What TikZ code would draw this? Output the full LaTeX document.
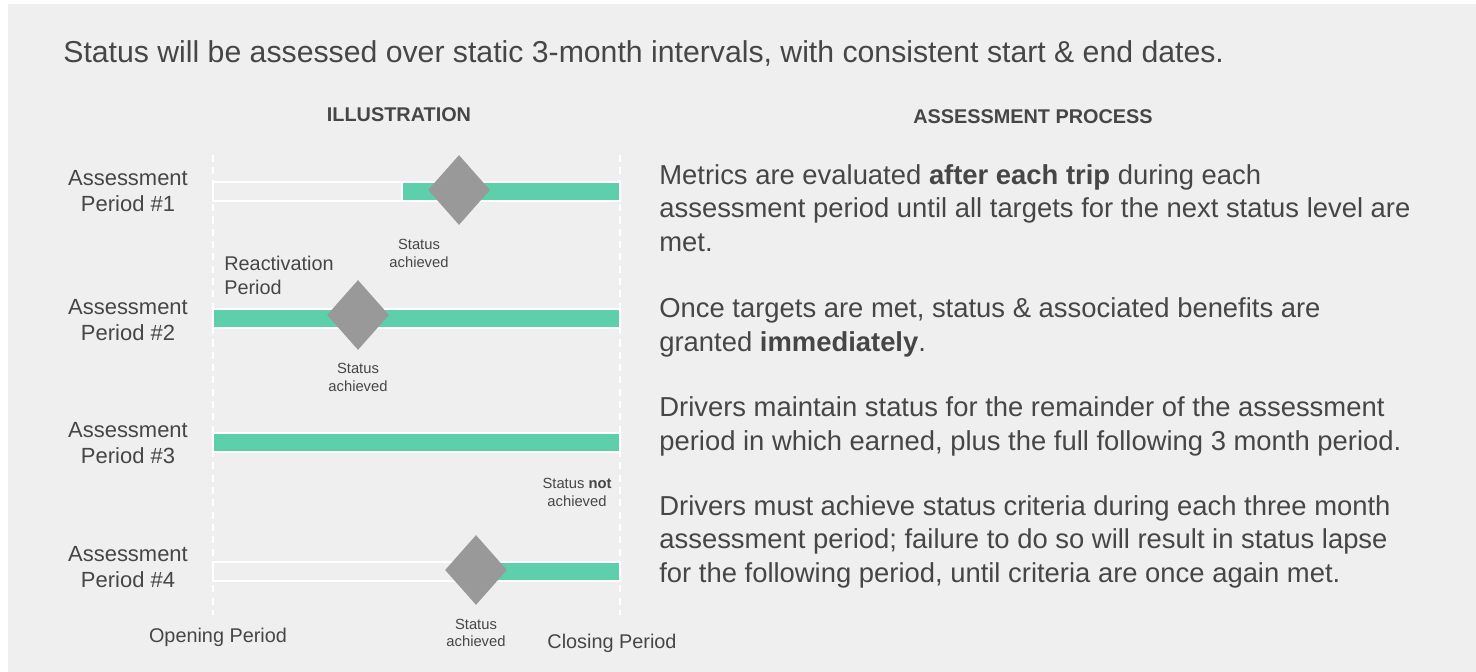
\documentclass[tikz,border=0pt]{standalone}
\usepackage{fontspec}
\setmainfont{Liberation Sans}
\usepackage{xcolor}
\usetikzlibrary{shapes.geometric, positioning}
\definecolor{panelGrey}{HTML}{EFEFEF}
\definecolor{textGrey}{HTML}{464646}
\definecolor{barGreen}{HTML}{5DCFAB}
\definecolor{markGrey}{HTML}{999999}

\begin{document}
\begin{tikzpicture}[
    x=0.02cm, y=-0.02cm,
    every node/.style={text=textGrey, inner sep=0pt},
    title/.style={font=\fontsize{17.2}{20}\selectfont, anchor=base west},
    head/.style={font=\fontsize{11.3}{13}\selectfont\bfseries},
    period/.style={align=center, font=\fontsize{12.5}{15.3}\selectfont},
    edge/.style={font=\fontsize{11.3}{13.6}\selectfont},
    note/.style={align=center, font=\fontsize{8.4}{10.2}\selectfont},
    body/.style={align=left, anchor=base west, font=\fontsize{15.6}{19}\selectfont},
    guide/.style={draw=white, line width=1.2pt, dash pattern=on 4pt off 3pt},
    track/.style={draw=white, line width=1.1pt},
    fillbar/.style={track, fill=barGreen},
    marker/.style={diamond, fill=markGrey, minimum width=1.24cm, minimum height=1.4cm, inner sep=0pt}
  ]
  % Background
  \useasboundingbox (0,0) rectangle (1476,672);
  \fill[white] (0,0) rectangle (1476,672);
  \fill[panelGrey] (8,4) rectangle (1476,672);

  % Headings
  \node[title] (intro) at (63,63) {Status will be assessed over static 3-month intervals, with consistent start \& end dates.};
  \node[head] (illus) at (399,115) {ILLUSTRATION};
  \node[head] (proc) at (1033,117) {ASSESSMENT PROCESS};

  % Guides
  \coordinate (openTop) at (213,155);
  \coordinate (openBot) at (213,615);
  \coordinate (closeTop) at (620,155);
  \coordinate (closeBot) at (620,615);
  \draw[guide] (openTop) -- (openBot);
  \draw[guide] (closeTop) -- (closeBot);

  % Bars
  \draw[track] (213,182) rectangle (620,201);
  \draw[fillbar] (402,182) rectangle (620,201);
  \draw[fillbar] (213,309) rectangle (620,328);
  \draw[fillbar] (213,433) rectangle (620,452);
  \draw[track] (213,562) rectangle (620,581);
  \draw[fillbar] (485,562) rectangle (620,581);

  % Markers
  \node[marker] (m1) at (459,190) {};
  \node[marker] (m2) at (358,315) {};
  \node[marker] (m4) at (476,570) {};

  % Period labels
  \node[period] (a1) at (128,191) {Assessment\\Period \#1};
  \node[period] (a2) at (128,320) {Assessment\\Period \#2};
  \node[period] (a3) at (128,443) {Assessment\\Period \#3};
  \node[period] (a4) at (128,567) {Assessment\\Period \#4};
  \node[edge, align=left, anchor=west] (react) at (224,275) {Reactivation\\Period};
  \node[edge] (open) at (218,637) {Opening Period};
  \node[edge] (close) at (612,643) {Closing Period};

  % Status notes
  \node[note] (s1) at (419,253) {Status\\achieved};
  \node[note, below=0.25cm of m2] (s2) {Status\\achieved};
  \node[note] (s3) at (577,492) {Status \textbf{not}\\achieved};
  \node[note, below=0.26cm of m4] (s4) {Status\\achieved};

  % Process text (placed by the baseline of each last line)
  \node[body] (p1) at (659,251) {Metrics are evaluated \textbf{after each trip} during each\\assessment period until all targets for the next status level are\\met.};
  \node[body] (p2) at (659,351) {Once targets are met, status \& associated benefits are\\granted \textbf{immediately}.};
  \node[body] (p3) at (659,450) {Drivers maintain status for the remainder of the assessment\\period in which earned, plus the full following 3 month period.};
  \node[body] (p4) at (659,582) {Drivers must achieve status criteria during each three month\\assessment period; failure to do so will result in status lapse\\for the following period, until criteria are once again met.};
\end{tikzpicture}
\end{document}
